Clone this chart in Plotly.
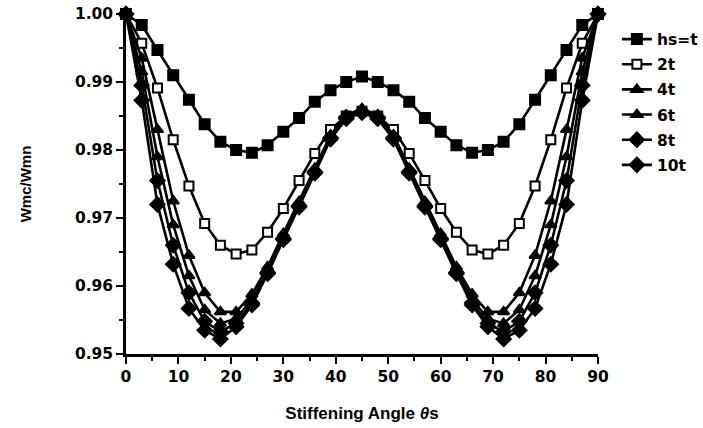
import plotly.graph_objects as go

angles = list(range(0, 91, 3))

half_hs1 = [1.000, 0.9984, 0.9947, 0.9910, 0.9874, 0.9838, 0.9812, 0.9800, 0.9796, 0.9807, 0.9827, 0.9847, 0.9871, 0.9888, 0.9900, 0.9908]
half_hs2 = [1.000, 0.9957, 0.9891, 0.9815, 0.9747, 0.9692, 0.9660, 0.9647, 0.9653, 0.9679, 0.9714, 0.9755, 0.9795, 0.9830, 0.9850, 0.9857]
half_hs4 = [1.000, 0.9935, 0.9830, 0.9725, 0.9645, 0.9590, 0.9562, 0.9562, 0.9588, 0.9628, 0.9677, 0.9724, 0.9773, 0.9822, 0.9851, 0.9861]
half_hs6 = [1.000, 0.9915, 0.9790, 0.9690, 0.9615, 0.9565, 0.9545, 0.9552, 0.9580, 0.9622, 0.9672, 0.9720, 0.9770, 0.9820, 0.9850, 0.9858]
half_hs8 = [1.000, 0.9895, 0.9755, 0.9660, 0.9590, 0.9548, 0.9533, 0.9545, 0.9575, 0.9620, 0.9670, 0.9718, 0.9768, 0.9818, 0.9848, 0.9856]
half_hs10 = [1.000, 0.9873, 0.9720, 0.9632, 0.9567, 0.9535, 0.9522, 0.9540, 0.9572, 0.9618, 0.9668, 0.9716, 0.9766, 0.9816, 0.9846, 0.9855]


def full(h):
    return h + h[-2::-1]


series_names = ["hs=t", "2t", "4t", "6t", "8t", "10t"]
series_values = [full(half_hs1), full(half_hs2), full(half_hs4), full(half_hs6), full(half_hs8), full(half_hs10)]
symbols = ["square", "square", "triangle-up", "triangle-up", "diamond", "diamond"]
fills = ["black", "white", "black", "black", "black", "black"]
sizes = [10, 9, 10, 10, 11, 11]

x_ticks = list(range(0, 91, 10))
y_ticks = [0.95, 0.96, 0.97, 0.98, 0.99, 1.00]

fig = go.Figure()
for name, vals, sym, fc, sz in zip(series_names, series_values, symbols, fills, sizes):
    fig.add_trace(go.Scatter(
        x=angles, y=vals, name=name, legendgroup=name, mode="lines+markers",
        line=dict(color="black", width=2.6),
        marker=dict(symbol=sym, size=sz, color=fc, line=dict(color="black", width=2)),
        cliponaxis=False,
    ))

tick_font = "DejaVu Sans, Verdana, sans-serif"
title_font = "Liberation Sans, Arial, sans-serif"
fig.update_layout(
    width=703, height=428,
    margin=dict(l=126, r=105, t=14, b=74, autoexpand=False),
    plot_bgcolor="white", paper_bgcolor="white",
    font=dict(family=tick_font, size=15.5, color="black"),
    showlegend=True,
    legend=dict(x=1.04, y=0.975, xanchor="left", yanchor="top",
                font=dict(size=15.5, family=tick_font, color="black", weight="bold"),
                bgcolor="rgba(0,0,0,0)", itemwidth=30, tracegroupgap=2),
    xaxis=dict(range=[0, 90], tickvals=x_ticks, ticks="outside", ticklen=7, tickwidth=2,
               tickcolor="black", showline=True, linecolor="black", linewidth=2.5,
               showgrid=False, zeroline=False,
               tickfont=dict(size=15.5, family=tick_font, weight="bold"),
               minor=dict(dtick=5, tick0=0, ticks="outside", ticklen=4, tickwidth=2, tickcolor="black"),
               title=dict(text="Stiffening Angle <i>θ</i>s", font=dict(size=17, family=title_font, weight="bold"), standoff=22)),
    yaxis=dict(range=[0.95, 1.0], tickvals=y_ticks, tickformat=".2f", ticks="outside", ticklen=7, tickwidth=2,
               tickcolor="black", showline=True, linecolor="black", linewidth=2.5,
               showgrid=False, zeroline=False,
               tickfont=dict(size=15.5, family=tick_font, weight="bold"),
               minor=dict(dtick=0.005, tick0=0.95, ticks="outside", ticklen=4, tickwidth=2, tickcolor="black"),
               title=dict(text="Wmc/Wmn", font=dict(size=15, family=title_font, weight="bold"), standoff=40)),
)

fig.write_html("out.html")
